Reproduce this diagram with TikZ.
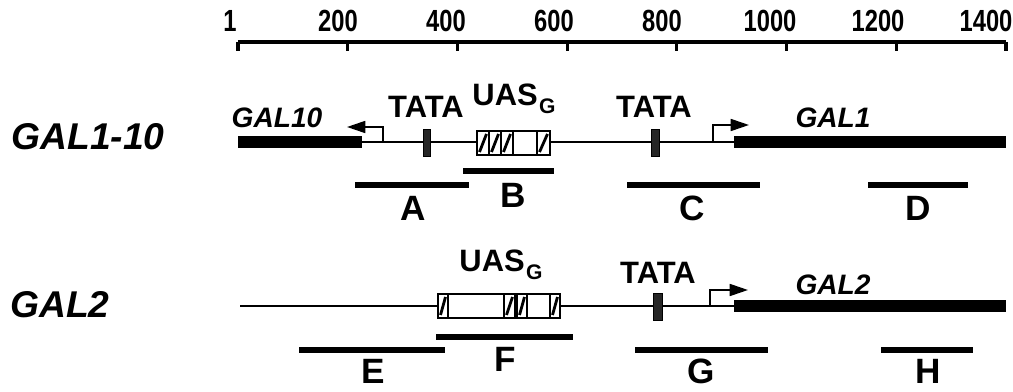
\documentclass[tikz,border=0pt]{standalone}
\usepackage{fontspec}
\setmainfont{Liberation Sans}
\usepackage{tikz}
\usetikzlibrary{arrows.meta, positioning}
\tikzset{
    axislabel/.style={font=\fontsize{17.4}{20}\selectfont\bfseries, inner sep=0pt},
    locusname/.style={font=\fontsize{26.5}{28}\selectfont\bfseries\itshape, inner sep=0pt},
    orfname/.style={font=\fontsize{20}{22}\selectfont\bfseries\itshape, inner sep=0pt},
    motif/.style={font=\fontsize{22}{24}\selectfont\bfseries, inner sep=0pt},
    probename/.style={font=\fontsize{25}{27}\selectfont\bfseries, inner sep=0pt},
    ruler/.style={line width=2.2pt},
    dna/.style={line width=1.2pt},
    orf/.style={line width=8pt},
    probe/.style={line width=3.6pt},
    tss/.style={line width=1.3pt, -{Triangle[length=13pt, width=8.5pt]}},
    uasbox/.style={line width=1.4pt},
    hatch/.style={line width=1.4pt},
    slash/.style={line width=2pt}
}
\tikzset{tatabox/.style={fill=black!85, draw=black, line width=0.7pt}}
\newcommand{\uasg}{UAS\kern1pt\raisebox{-0.5ex}{\fontsize{15}{15}\selectfont G}}
\newcommand{\tall}[1]{\scalebox{0.97}[1.25]{#1}}

\begin{document}
\begin{tikzpicture}[x=0.025cm, y=-0.025cm]
    \useasboundingbox (0,0) rectangle (1013,392);

    % Scale bar
    \draw[ruler] (238,42) -- (1006,42);
    \foreach \k/\pos in {0/1,1/200,2/400,3/600,4/800,5/1000,6/1200,7/1400} {
        \draw[ruler] ({238+\k*109.71},42) -- ++(0,9);
        \node[axislabel] (tick\k) at ({230+\k*108},21) {\tall{\pos}};
    }

    % GAL1-10 locus
    \node[locusname] (gal110) at (88,137) {GAL1-10};
    \draw[dna] (362,142) -- (734,142);
    \draw[orf] (238,142) -- (362,142);
    \draw[orf] (734,142) -- (1006,142);
    \node[orfname] (gal10) at (277,118) {GAL10};
    \node[orfname] (gal1) at (833,118) {GAL1};

    % transcription starts
    \draw[tss] (383,142) -- (383,127) -- (347,127);
    \draw[tss] (713,142) -- (713,125) -- (749,125);

    % TATA boxes
    \filldraw[tatabox] (423,129) rectangle (430,156);
    \filldraw[tatabox] (651,129) rectangle (659,156);
    \node[motif] (tataA) at (426,107) {TATA};
    \node[motif] (tataB) at (654,107) {TATA};

    % UAS
    \filldraw[uasbox, fill=white] (477,131) rectangle (550,155);
    \foreach \a/\b in {477/489,489/501,501/513,537/550} {
        \draw[hatch] (\a,131) rectangle (\b,155);
        \draw[slash] ({\a+2.5},152) -- ({\b-2.5},134);
    }
    \node[motif] (uasA) at (514,99) {\uasg};

    % probes
    \draw[probe] (355,185) -- (469,185);
    \draw[probe] (463,171) -- (554,171);
    \draw[probe] (627,185) -- (760,185);
    \draw[probe] (868,185) -- (968,185);
    \node[probename] (pA) at (413,208) {A};
    \node[probename] (pB) at (513,195) {B};
    \node[probename] (pC) at (692,208) {C};
    \node[probename] (pD) at (918,208) {D};

    % GAL2 locus
    \node[locusname] (gal2) at (60,305) {GAL2};
    \draw[dna] (240,306) -- (734,306);
    \draw[orf, line width=9pt] (734,306) -- (1006,306);
    \node[orfname] (gal2orf) at (833,285) {GAL2};

    % transcription start
    \draw[tss] (710,306) -- (710,290) -- (748,290);

    % TATA box
    \filldraw[tatabox] (653,293) rectangle (662,320);
    \node[motif] (tataC) at (658,273) {TATA};

    % UAS
    \filldraw[uasbox, fill=white] (438,294) rectangle (560,318);
    \foreach \a/\b in {438/448,504/515,517/527,550/560} {
        \draw[hatch] (\a,294) rectangle (\b,318);
        \draw[slash] ({\a+2.5},315) -- ({\b-2.5},297);
    }
    \node[motif] (uasB) at (501,265) {\uasg};

    % probes
    \draw[probe] (299,350) -- (445,350);
    \draw[probe] (436,337) -- (573,337);
    \draw[probe] (635,350) -- (768,350);
    \draw[probe] (881,350) -- (973,350);
    \node[probename] (pE) at (373,371) {E};
    \node[probename] (pF) at (505,359) {F};
    \node[probename] (pG) at (701,371) {G};
    \node[probename] (pH) at (928,371) {H};
\end{tikzpicture}
\end{document}
